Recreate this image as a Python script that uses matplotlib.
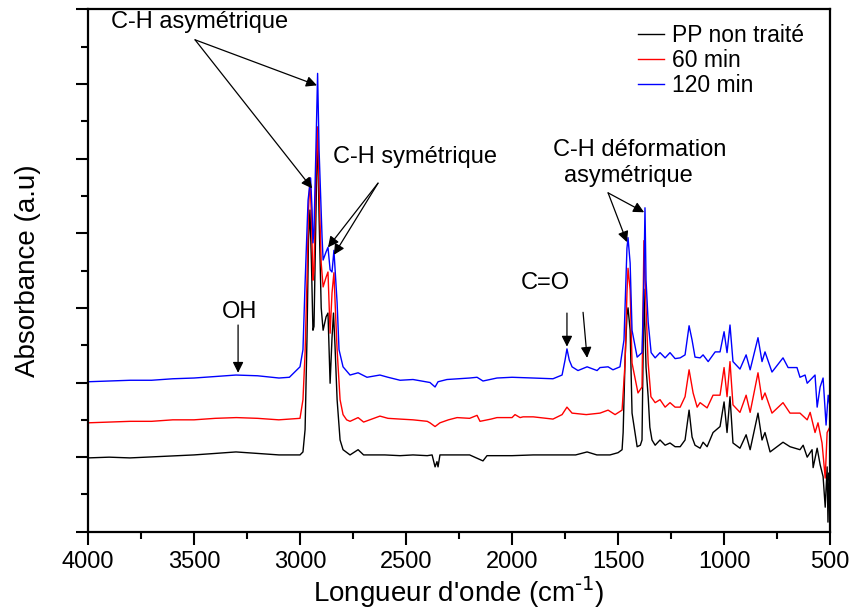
import numpy as np
import matplotlib
matplotlib.use("Agg")
import matplotlib.pyplot as plt
from matplotlib.ticker import MultipleLocator

plt.rcParams['font.family'] = ['Liberation Sans', 'DejaVu Sans']
plt.rcParams['mathtext.default'] = 'regular'

# wavenumber (cm-1) / absorbance (a.u., offset)
wn_pp = [4000, 3900, 3802, 3650, 3500, 3400, 3302, 3200, 3099, 3000, 2986, 2976, 2967, 2960,
         2953, 2946, 2939, 2934, 2925, 2918, 2910, 2900, 2891, 2877, 2868, 2858, 2849, 2842,
         2835, 2825, 2811, 2797, 2764, 2726, 2700, 2600, 2528, 2467, 2400, 2377, 2363, 2354,
         2349, 2340, 2300, 2200, 2137, 2118, 2000, 1900, 1800, 1700, 1646, 1600, 1538, 1500,
         1481, 1476, 1467, 1458, 1453, 1443, 1434, 1410, 1395, 1387, 1378, 1368, 1358, 1350,
         1340, 1325, 1302, 1278, 1255, 1231, 1207, 1184, 1165, 1151, 1137, 1113, 1099, 1080,
         1052, 1019, 1000, 986, 972, 958, 925, 896, 877, 840, 821, 807, 783, 722, 689, 642,
         627, 608, 585, 580, 561, 547, 533, 523, 514, 510, 505, 500]
abs_pp = [0.99, 1.00, 0.99, 1.01, 1.03, 1.05, 1.07, 1.05, 1.03, 1.03, 1.07, 1.37, 2.60, 3.90,
          4.31, 3.60, 2.70, 2.75, 4.22, 5.42, 4.22, 3.00, 2.70, 2.88, 2.93, 1.99, 2.60, 2.93,
          2.50, 1.77, 1.23, 1.10, 1.03, 1.10, 1.03, 1.03, 1.02, 1.03, 1.02, 1.03, 0.87, 0.94,
          0.87, 1.03, 1.03, 1.03, 0.95, 1.02, 1.02, 1.03, 1.03, 1.03, 1.07, 1.03, 1.03, 1.06,
          1.10, 1.33, 2.30, 2.90, 3.00, 2.70, 1.59, 1.14, 1.16, 1.23, 3.25, 2.20, 1.81, 1.40,
          1.23, 1.16, 1.23, 1.16, 1.19, 1.14, 1.14, 1.23, 1.63, 1.27, 1.16, 1.12, 1.20, 1.14,
          1.33, 1.41, 1.74, 1.33, 1.81, 1.19, 1.12, 1.30, 1.10, 1.59, 1.23, 1.33, 1.07, 1.20,
          1.14, 1.10, 1.16, 1.00, 1.10, 0.86, 1.12, 0.90, 0.74, 0.33, 0.87, 0.13, 0.79, 0.60]

wn_60 = [4000, 3900, 3800, 3700, 3600, 3500, 3400, 3300, 3200, 3100, 3000, 2986, 2976, 2967,
         2960, 2953, 2946, 2939, 2934, 2925, 2918, 2910, 2900, 2891, 2877, 2868, 2858, 2849,
         2840, 2832, 2825, 2811, 2797, 2780, 2764, 2726, 2700, 2623, 2585, 2528, 2467, 2400,
         2387, 2363, 2340, 2300, 2259, 2200, 2165, 2151, 2099, 2071, 2000, 1986, 1962, 1948,
         1900, 1807, 1764, 1741, 1717, 1650, 1585, 1547, 1514, 1481, 1467, 1458, 1453, 1443,
         1434, 1406, 1387, 1378, 1368, 1358, 1345, 1325, 1302, 1278, 1255, 1231, 1207, 1184,
         1165, 1146, 1127, 1113, 1080, 1052, 1019, 1000, 986, 972, 958, 925, 896, 877, 840,
         821, 807, 774, 722, 689, 642, 608, 594, 571, 557, 538, 523, 514, 500]
abs_60 = [1.46, 1.47, 1.48, 1.48, 1.50, 1.50, 1.52, 1.53, 1.52, 1.50, 1.52, 1.77, 2.40, 3.37,
          4.30, 4.74, 4.20, 3.37, 3.50, 4.80, 5.42, 4.60, 3.60, 3.28, 3.41, 3.48, 2.66, 3.20,
          3.47, 2.90, 2.44, 1.77, 1.57, 1.50, 1.48, 1.53, 1.47, 1.55, 1.52, 1.51, 1.50, 1.48,
          1.46, 1.41, 1.46, 1.50, 1.53, 1.52, 1.56, 1.48, 1.51, 1.53, 1.53, 1.57, 1.53, 1.54,
          1.54, 1.51, 1.57, 1.67, 1.59, 1.57, 1.59, 1.63, 1.57, 1.63, 2.26, 3.20, 3.53, 3.24,
          2.26, 1.86, 1.94, 3.90, 3.00, 2.26, 1.81, 1.73, 1.77, 1.67, 1.73, 1.67, 1.67, 1.81,
          2.17, 1.86, 1.67, 1.73, 1.66, 1.83, 1.83, 2.20, 1.81, 2.28, 1.70, 1.60, 1.83, 1.60, 2.13,
          1.77, 1.86, 1.59, 1.73, 1.59, 1.59, 1.50, 1.60, 1.33, 1.46, 1.19, 0.72, 1.33, 1.41]

wn_120 = [4000, 3900, 3800, 3700, 3600, 3500, 3400, 3302, 3200, 3099, 3050, 3000, 2986, 2976,
          2962, 2950, 2943, 2939, 2934, 2925, 2917, 2910, 2896, 2891, 2877, 2868, 2858, 2849,
          2840, 2825, 2816, 2797, 2764, 2726, 2684, 2623, 2585, 2528, 2467, 2387, 2363, 2349,
          2307, 2200, 2165, 2137, 2071, 2000, 1900, 1807, 1764, 1750, 1741, 1730, 1717, 1689,
          1646, 1599, 1585, 1547, 1524, 1491, 1472, 1458, 1453, 1443, 1434, 1410, 1387, 1378,
          1373, 1368, 1358, 1344, 1325, 1302, 1278, 1255, 1231, 1207, 1184, 1165, 1151, 1137,
          1113, 1099, 1075, 1042, 1019, 1000, 986, 972, 958, 925, 896, 877, 840, 821, 807, 774,
          722, 698, 656, 642, 618, 608, 571, 561, 547, 533, 519, 509, 500]
abs_120 = [2.01, 2.02, 2.03, 2.03, 2.05, 2.06, 2.08, 2.10, 2.09, 2.06, 2.07, 2.21, 2.44, 3.33,
           4.44, 4.74, 4.31, 3.87, 4.04, 5.11, 6.14, 5.11, 3.95, 3.64, 3.75, 3.81, 3.51, 3.48,
           3.77, 3.07, 2.44, 2.21, 2.10, 2.13, 2.07, 2.10, 2.07, 2.03, 2.04, 2.00, 1.94, 2.01,
           2.04, 2.06, 2.07, 2.02, 2.06, 2.07, 2.06, 2.05, 2.10, 2.30, 2.45, 2.30, 2.21, 2.16,
           2.21, 2.16, 2.20, 2.21, 2.17, 2.21, 2.57, 3.80, 3.94, 3.60, 2.70, 2.34, 2.40, 3.37,
           4.34, 3.37, 2.81, 2.40, 2.33, 2.40, 2.33, 2.40, 2.32, 2.33, 2.37, 2.76, 2.57, 2.34,
           2.33, 2.37, 2.28, 2.41, 2.41, 2.68, 2.40, 2.77, 2.28, 2.18, 2.37, 2.17, 2.60, 2.28,
           2.41, 2.14, 2.33, 2.20, 2.20, 2.07, 2.10, 1.99, 2.10, 1.67, 1.94, 2.06, 1.43, 1.83, 1.67]

series_labels = ['PP non traité', '60 min', '120 min']
series_colors = ['black', 'red', 'blue']

fig = plt.figure(figsize=(8.54, 6.12), dpi=100)
ax = fig.add_axes([0.103, 0.131, 0.869, 0.854])

for wn, ab, lab, col in zip([wn_pp, wn_60, wn_120], [abs_pp, abs_60, abs_120],
                            series_labels, series_colors):
    ax.plot(wn, ab, color=col, lw=1.0, label=lab)

ax.set_xlim(4000, 500)
ax.set_ylim(0, 7)
ax.xaxis.set_major_locator(MultipleLocator(500))
ax.xaxis.set_minor_locator(MultipleLocator(250))
ax.yaxis.set_major_locator(MultipleLocator(1))
ax.yaxis.set_minor_locator(MultipleLocator(0.5))
ax.set_yticklabels([])
ax.tick_params(which='major', direction='out', length=9, width=1.5, labelsize=17, pad=5)
ax.tick_params(which='minor', direction='out', length=5, width=1.5)
for sp in ax.spines.values():
    sp.set_linewidth(1.6)

ax.set_xlabel('Longueur d\'onde (cm$^{\\text{-1}}$)', fontsize=20, labelpad=1)
ax.set_ylabel('Absorbance (a.u)', fontsize=20, labelpad=20)

ax.legend(loc='upper right', frameon=False, fontsize=16.5, handlelength=1.15,
          handletextpad=0.35, labelspacing=0.08, borderaxespad=0.25,
          bbox_to_anchor=(0.985, 1.0))

arw = dict(arrowstyle='-|>', color='black', lw=0.9, mutation_scale=16,
           shrinkA=0, shrinkB=0)
txt = dict(fontsize=17, ha='center', va='center')

ax.text(3472, 6.83, 'C-H asymétrique', **txt)
ax.annotate('', xy=(2920, 5.98), xytext=(3495, 6.59), arrowprops=arw)
ax.annotate('', xy=(2943, 4.60), xytext=(3495, 6.59), arrowprops=arw)

ax.text(2458, 5.02, 'C-H symétrique', **txt)
ax.annotate('', xy=(2868, 3.81), xytext=(2632, 4.67), arrowprops=arw)
ax.annotate('', xy=(2840, 3.71), xytext=(2632, 4.67), arrowprops=arw)

ax.text(1396, 5.11, 'C-H déformation', **txt)
ax.text(1453, 4.77, 'asymétrique', **txt)
ax.annotate('', xy=(1458, 3.88), xytext=(1547, 4.54), arrowprops=arw)
ax.annotate('', xy=(1377, 4.28), xytext=(1547, 4.54), arrowprops=arw)

ax.text(1844, 3.33, 'C=O', **txt)
ax.annotate('', xy=(1741, 2.48), xytext=(1741, 2.93), arrowprops=arw)
ax.annotate('', xy=(1646, 2.33), xytext=(1665, 2.94), arrowprops=arw)

ax.text(3283, 2.94, 'OH', **txt)
ax.annotate('', xy=(3292, 2.13), xytext=(3292, 2.77), arrowprops=arw)

fig.savefig('out.png', dpi=100)
